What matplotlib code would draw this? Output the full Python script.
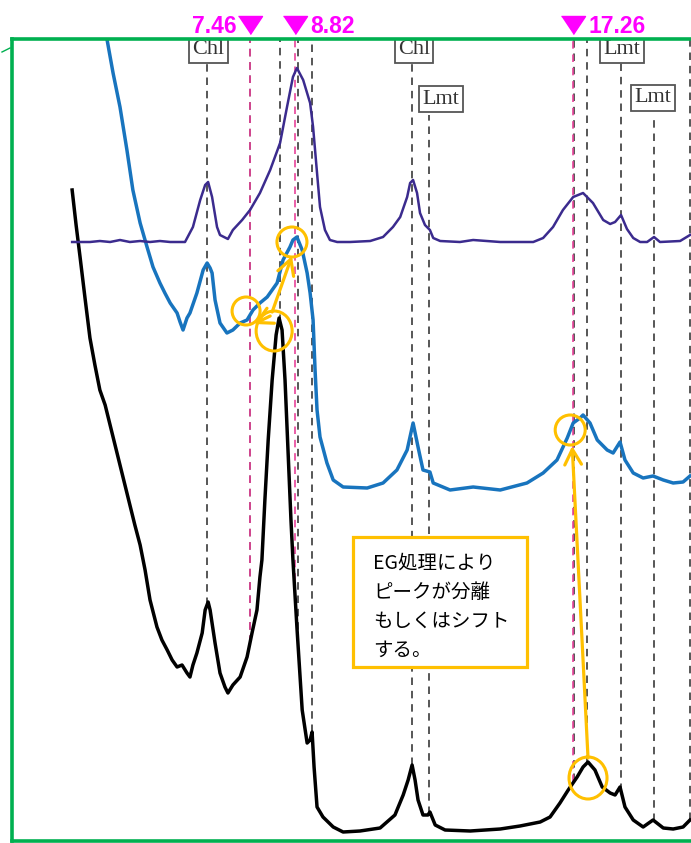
import numpy as np
import matplotlib
matplotlib.use("Agg")
import matplotlib.pyplot as plt
from matplotlib.patches import Ellipse, Rectangle, FancyArrowPatch
from matplotlib.lines import Line2D

# ---------------- data (2theta in degrees, intensity in arbitrary units) -------------
purple_2theta = [2.07, 2.61, 2.91, 3.22, 3.52, 3.82, 4.13, 4.43, 4.73, 5.04, 5.49, 5.73,
                 5.95, 6.10, 6.19, 6.31, 6.46, 6.55, 6.79, 6.94, 7.22, 7.46, 7.76, 8.07,
                 8.37, 8.58, 8.76, 8.88, 9.07, 9.28, 9.37, 9.49, 9.58, 9.73, 9.88, 10.10,
                 10.49, 11.10, 11.49, 11.79, 12.01, 12.22, 12.31, 12.40, 12.52, 12.61, 12.76,
                 12.91, 13.01, 13.22, 13.82, 14.22, 15.04, 16.04, 16.34, 16.64, 16.94, 17.25,
                 17.55, 17.85, 18.16, 18.37, 18.52, 18.70, 18.88, 19.07, 19.28, 19.49, 19.70,
                 19.88, 20.49, 20.79]
purple_int = [598, 598, 599, 598, 600, 598, 599, 598, 599, 598, 598, 613,
              640, 655, 658, 643, 613, 605, 601, 610, 620, 630, 647, 670,
              697, 733, 763, 772, 760, 737, 713, 667, 633, 610, 600, 598,
              598, 599, 603, 613, 623, 643, 657, 660, 647, 627, 615,
              610, 602, 599, 598, 600, 598, 598, 602, 613, 630, 643,
              647, 637, 620, 616, 618, 625, 611, 602, 598, 598, 603,
              598, 599, 605]

blue_2theta = [3.01, 3.13, 3.31, 3.52, 3.73, 3.91, 4.13, 4.34, 4.52, 4.73, 4.88, 5.04,
               5.25, 5.34, 5.43, 5.55, 5.64, 5.85, 6.04, 6.16, 6.25, 6.31, 6.40, 6.55,
               6.76, 6.94, 7.16, 7.37, 7.55, 7.76, 7.98, 8.28, 8.46, 8.67, 8.76, 8.88,
               9.04, 9.19, 9.28, 9.37, 9.43, 9.49, 9.58, 9.79, 9.98, 10.28, 11.01, 11.49,
               11.91, 12.22, 12.40, 12.55, 12.70, 12.91, 13.01, 13.52, 14.22, 15.04, 15.85,
               16.34, 16.76, 17.07, 17.25, 17.46, 17.55, 17.76, 17.98, 18.28, 18.46, 18.67,
               18.82, 19.07, 19.37, 19.67, 19.98, 20.28, 20.58, 20.79]
blue_int = [830, 800, 767, 733, 690, 650, 617, 593, 573, 557, 547, 537,
            527, 518, 510, 522, 527, 547, 570, 577, 572, 567, 540, 517,
            507, 510, 517, 520, 530, 537, 543, 557, 580, 593, 600, 603,
            590, 567, 547, 520, 470, 430, 403, 377, 360, 353, 352, 357,
            370, 390, 417, 393, 370, 368, 357, 350, 353, 350, 357,
            367, 380, 402, 417, 422, 425, 417, 400, 390, 387, 398,
            380, 367, 362, 364, 360, 357, 358, 364]

black_2theta = [2.07, 2.19, 2.31, 2.46, 2.61, 2.76, 2.91, 3.07, 3.22, 3.37, 3.52, 3.67,
                3.82, 3.97, 4.13, 4.28, 4.43, 4.64, 4.79, 4.95, 5.10, 5.25, 5.40, 5.55,
                5.64, 5.73, 5.85, 6.01, 6.10, 6.19, 6.25, 6.40, 6.55, 6.70, 6.79, 6.94,
                7.16, 7.37, 7.52, 7.67, 7.76, 7.82, 7.91, 8.01, 8.13, 8.25, 8.34, 8.43,
                8.52, 8.61, 8.70, 8.76, 8.88, 9.04, 9.19, 9.28, 9.34, 9.40, 9.49, 9.67,
                9.98, 10.28, 10.79, 11.40, 11.85, 12.10, 12.25, 12.37, 12.46, 12.55, 12.70,
                12.85, 12.91, 13.07, 13.37, 14.13, 15.04, 15.64, 16.25, 16.55, 16.85, 17.10,
                17.37, 17.55, 17.70, 17.91, 18.13, 18.37, 18.52, 18.67, 18.82, 19.07, 19.37,
                19.67, 19.98, 20.28, 20.58, 20.79]
black_int = [650, 615, 583, 542, 502, 475, 450, 435, 415, 395, 375, 355,
             335, 315, 295, 270, 240, 213, 200, 190, 180, 173, 175, 167,
             163, 175, 187, 207, 230, 238, 230, 197, 167, 153, 147, 155,
             163, 183, 207, 230, 263, 280, 340, 400, 460, 505, 522, 510,
             460, 390, 320, 280, 213, 130, 97, 100, 108, 73, 33, 23,
             13, 8, 9, 12, 25, 45, 60, 75, 60, 40, 25,
             25, 28, 15, 10, 9, 11, 14, 18, 23, 37, 50,
             63, 73, 78, 70, 53, 47, 45, 53, 33, 20, 13,
             20, 12, 11, 13, 20]

# reference (mineral) lines, in 2theta
ref_lines = [6.16, 7.46, 8.37, 8.91, 9.34, 12.37, 12.88, 17.28, 17.67, 18.70, 19.70, 20.79]
ref_line_top = [777, 802, 802, 802, 802, 777, 725, 802, 802, 777, 725, 802]
mineral_labels = ["Chl", "Chl", "Lmt", "Lmt", "Lmt"]
mineral_label_x = [6.19, 12.43, 13.25, 18.73, 19.67]
mineral_label_y = [790, 790, 741, 790, 742]

peak_marks = [7.46, 8.82, 17.26]
peak_mark_text = ["7.46", "8.82", "17.26"]
peak_mark_side = ["left", "right", "right"]

note_lines = ["EG処理により", "ピークが分離", "もしくはシフト", "する。"]

# ---------------- styling ----------------
GREEN = "#00B050"
PURPLE = "#3B2B8E"
BLUE = "#1874BE"
MAGENTA = "#FF00FF"
PINK = "#E8439A"
ORANGE = "#FFC000"
DASH = "#3A3A3A"

W, H = 691, 843
fig = plt.figure(figsize=(W / 100, H / 100), dpi=100)
ax = fig.add_axes([11.5 / W, 2 / H, (W - 11.5) / W, (841 - 38.5) / H])
ax.set_xlim(0.233, 20.82)
ax.set_ylim(-1, 801.5)
PX = (20.82 - 0.233) / (W - 11.5)   # 2theta per pixel

for s in ["left", "top", "bottom"]:
    ax.spines[s].set_color(GREEN)
    ax.spines[s].set_linewidth(2.6)
    ax.spines[s].set_zorder(10)
ax.spines["right"].set_visible(False)
ax.set_xticks([])
ax.set_yticks([])

# reference dashed lines
for x, top in zip(ref_lines, ref_line_top):
    bottom = np.interp(x, black_2theta, black_int)
    ax.plot([x, x], [bottom, top], color=DASH, lw=1.2, dashes=(4.5, 3.5), zorder=1)

for x in peak_marks:
    bottom = np.interp(x, black_2theta, black_int)
    ax.plot([x, x], [bottom, 802], color=PINK, lw=1.2, dashes=(4.5, 3.5), zorder=1.2)

# traces
ax.plot(black_2theta, black_int, color="black", lw=2.5, zorder=3, solid_joinstyle="round")
ax.plot(blue_2theta, blue_int, color=BLUE, lw=2.5, zorder=3.2, solid_joinstyle="round")
ax.plot(purple_2theta, purple_int, color=PURPLE, lw=1.8, zorder=3.4, solid_joinstyle="round")

# mineral labels (clipped by the plot frame, like the original)
for t, x, y in zip(mineral_labels, mineral_label_x, mineral_label_y):
    ax.text(x, y, t, family="Liberation Serif", fontsize=16, color="#333333",
            ha="center", va="center", zorder=6, clip_on=True,
            bbox=dict(boxstyle="square,pad=0.15", fc="white", ec="#555555", lw=1.3))

# magenta peak markers
tri = [(-1.0, 0.75), (1.0, 0.75), (0.0, -0.75)]
for x, t, side in zip(peak_marks, peak_mark_text, peak_mark_side):
    ax.plot([x], [815], marker=tri, ms=17.3, color=MAGENTA, clip_on=False, zorder=12, ls="none")
    if side == "left":
        ax.text(x - 13 * PX, 807, t, ha="right", va="baseline", color=MAGENTA,
                family="Liberation Sans", weight="bold", fontsize=16.5, clip_on=False)
    else:
        ax.text(x + 15 * PX, 807, t, ha="left", va="baseline", color=MAGENTA,
                family="Liberation Sans", weight="bold", fontsize=16.5, clip_on=False)

# annotation box
ax.add_patch(Rectangle((10.58, 173), 5.27, 130, fill=True, fc="white", ec=ORANGE, lw=2.3, zorder=7))
for i, line in enumerate(note_lines):
    ax.text(11.19, 277 - 29 * i, line, family=["Noto Sans CJK JP", "DejaVu Sans"], fontsize=14,
            ha="left", va="center", color="black", zorder=8)

# circles
circles = [(8.73, 598, 30, 30), (7.34, 529, 28, 28), (8.19, 509, 36, 40),
           (17.16, 410, 30, 30), (17.70, 62, 38, 42)]
for cx, cy, w, h in circles:
    ax.add_patch(Ellipse((cx, cy), w * PX, h, fill=False, ec=ORANGE, lw=2.2, zorder=9))

# arrows
arrows = [((8.13, 528), (8.73, 584)), ((8.07, 524), (7.58, 516)), ((17.70, 82), (17.22, 394))]
for a, b in arrows:
    ax.add_patch(FancyArrowPatch(a, b, arrowstyle="->,head_length=0.55,head_width=0.3",
                                 mutation_scale=20, color=ORANGE, lw=2.3, zorder=9,
                                 shrinkA=0, shrinkB=0))

# small stray tick at top-left
fig.add_artist(Line2D([2 / W, 10 / W], [1 - 52 / H, 1 - 48 / H], color=GREEN, lw=1.0))

fig.savefig("out.png", dpi=100)
